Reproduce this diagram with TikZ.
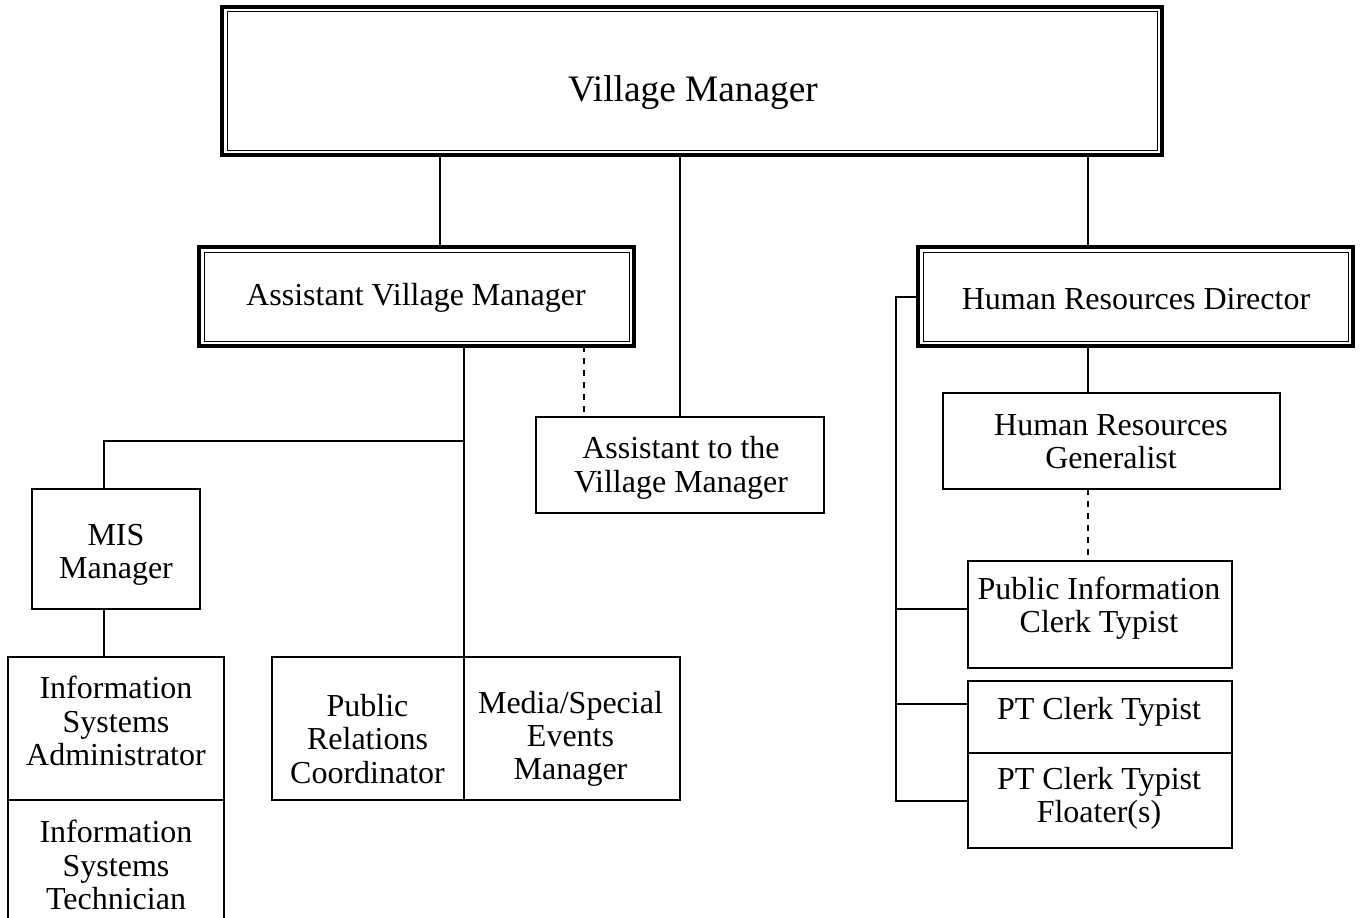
\documentclass[tikz,border=0pt]{standalone}
\usepackage{fontspec}
\setmainfont{Liberation Serif}
\begin{document}
\begin{tikzpicture}[x=0.75pt,y=-0.75pt,
  line width=1.5pt,
  bx/.style 2 args={draw, rectangle, inner sep=0pt, outer sep=0pt, minimum width=#1*0.75pt, minimum height=#2*0.75pt},
  dbl/.style 2 args={bx={#1}{#2}, line width=3pt},
  txt/.style={align=center, inner sep=0pt, font=\fontsize{24}{25}\selectfont},
  bigtxt/.style={align=center, inner sep=0pt, font=\fontsize{28}{30}\selectfont},
  dsh/.style={dash pattern=on 4.5pt off 4.5pt},
  innerline/.style={line width=0.75pt}
]
\useasboundingbox (0,0) rectangle (1363,917);
\fill[white] (0,0) rectangle (1363,917);
\clip (0,0) rectangle (1363,917);

% boxes
\node[dbl={940}{148}] (vm) at (692,81) {};
\draw[innerline] ([shift={(5,5)}]vm.north west) rectangle ([shift={(-5,-5)}]vm.south east);
\node[bigtxt] (vmt) at (693,93) {Village Manager};

\node[dbl={435}{99}] (avm) at (416.5,296.5) {};
\draw[innerline] ([shift={(5,5)}]avm.north west) rectangle ([shift={(-5,-5)}]avm.south east);
\node[txt] (avmt) at (416,298) {Assistant Village Manager};

\node[dbl={435}{99}] (hrd) at (1135.5,296.5) {};
\draw[innerline] ([shift={(5,5)}]hrd.north west) rectangle ([shift={(-5,-5)}]hrd.south east);
\node[txt] (hrdt) at (1136,299) {Human Resources Director};

\node[bx={288}{96}] (atvm) at (680,465) {};
\node[txt] (atvmt) at (681,468) {Assistant to the\\Village Manager};

\node[bx={337}{96}] (hrg) at (1111.5,441) {};
\node[txt] (hrgt) at (1111,442) {Human Resources\\Generalist};

\node[bx={168}{120}] (mis) at (116,549) {};
\node[txt] (mist) at (116,555) {MIS\\Manager};

\node[bx={216}{143}] (isa) at (116,728.5) {};
\node[txt] (isat) at (116,721) {Information\\Systems\\Administrator};

\node[bx={216}{143}] (ist) at (116,871.5) {};
\node[txt] (istt) at (116,865) {Information\\Systems\\Technician};

\node[bx={192}{143}] (pr) at (368,728.5) {};
\node[txt] (prt) at (367.5,739) {Public\\Relations\\Coordinator};

\node[bx={216}{143}] (med) at (572,728.5) {};
\node[txt] (medt) at (570.5,739) {Media/Special\\Events\\Manager};

\node[bx={264}{107}] (pi) at (1100,614.5) {};
\node[txt] (pit) at (1099,608) {Public Information\\Clerk Typist};

\node[bx={264}{72}] (ptc) at (1100,717) {};
\node[txt] (ptct) at (1099,712) {PT Clerk Typist};

\node[bx={264}{95}] (flt) at (1100,800.5) {};
\node[txt] (fltt) at (1099,798) {PT Clerk Typist\\Floater(s)};

% connector columns
\coordinate (x440) at (440,0);
\coordinate (x584) at (584,0);
\coordinate (x464) at (464,0);
\coordinate (x104) at (104,0);
\coordinate (x1088) at (1088,0);
\coordinate (x896) at (896,0);
\coordinate (j1) at (464,441);
\coordinate (b1) at (896,609);
\coordinate (b2) at (896,704);

% connectors
\draw (vm.south -| x440) -- (avm.north -| x440);
\draw (vm.south -| atvm.north) -- (atvm.north);
\draw (vm.south -| x1088) -- (hrd.north -| x1088);
\draw[dsh] (avm.south -| x584) -- (atvm.north -| x584);
\draw (avm.south -| x464) -- (pr.north east);
\draw (j1) -| (mis.north -| x104);
\draw (mis.south -| x104) -- (isa.north -| x104);
\draw (hrd.south -| x1088) -- (hrg.north -| x1088);
\draw[dsh] (hrg.south -| x1088) -- (pi.north -| x1088);
\draw (hrd.west) -- (hrd.west -| x896) -- (flt.west -| x896) -- (flt.west);
\draw (b1) -- (b1 -| pi.west);
\draw (b2) -- (b2 -| ptc.west);
\end{tikzpicture}
\end{document}
